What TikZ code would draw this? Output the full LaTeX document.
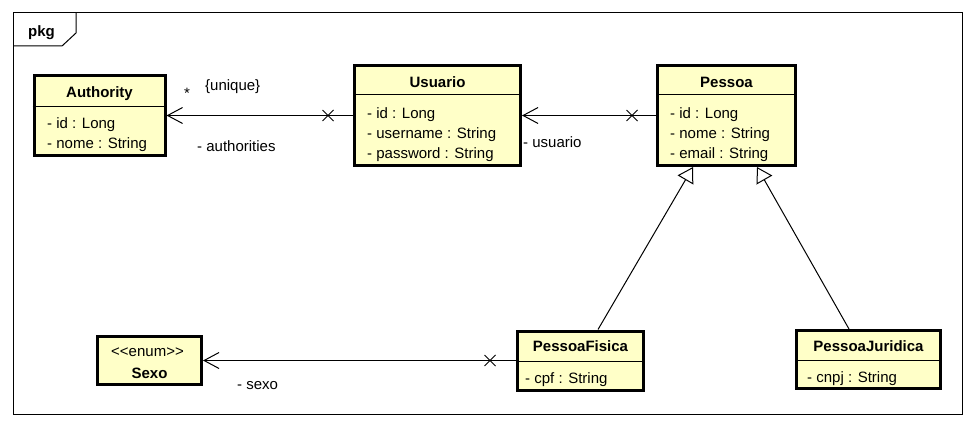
\documentclass[tikz,border=0pt]{standalone}
\usepackage{fontspec}
\setmainfont{Liberation Sans}
\usepackage{xcolor}
\usepackage{tikz}
\usetikzlibrary{arrows.meta,shapes.misc,positioning}
\definecolor{classfill}{HTML}{FFFFC8}

\begin{document}
\begin{tikzpicture}[x=1pt,y=-1pt,%
      font=\fontsize{15pt}{18pt}\selectfont,
      frame/.style={draw,line width=1pt},
      classbox/.style={draw,line width=3pt,fill=classfill,inner sep=0pt},
      sepline/.style={line width=1pt},
      title/.style={anchor=base,inner sep=0pt,font=\fontsize{15pt}{18pt}\selectfont\bfseries},
      attr/.style={anchor=base west,inner sep=0pt},
      rolelabel/.style={anchor=base west,inner sep=0pt},
      xmark/.style={cross out,draw,line width=1pt,minimum size=10pt,inner sep=0pt},
      assoc/.style={line width=1pt,-{Straight Barb[length=15pt,width=16pt]}},
      gen/.style={line width=1pt,-{Triangle[open,length=15pt,width=18pt,fill=white]}}]
      \useasboundingbox (0,0) rectangle (974,428);
      % package frame
      \draw[frame] (13,13) rectangle (962,414);
      \draw[frame] (13,46) -- (62,46) -- (76,33) -- (76,13);
      \node[title] (pkg) at (41.5,37) {pkg};
      % classes
      \node[classbox,minimum width=131pt,minimum height=80pt] (authority) at (99.5,115.5) {};
      \node[classbox,minimum width=166pt,minimum height=100pt] (usuario) at (437.5,115.5) {};
      \node[classbox,minimum width=138pt,minimum height=100pt] (pessoa) at (726.5,115.5) {};
      \node[classbox,minimum width=104pt,minimum height=48pt] (sexo) at (149.5,360.5) {};
      \node[classbox,minimum width=126pt,minimum height=59pt] (pfisica) at (580.5,360.5) {};
      \node[classbox,minimum width=144pt,minimum height=58pt] (pjuridica) at (868.5,359.5) {};
      \draw[sepline] (authority.west |- 0,106) -- (authority.east |- 0,106);
      \draw[sepline] (usuario.west |- 0,94) -- (usuario.east |- 0,94);
      \draw[sepline] (pessoa.west |- 0,94) -- (pessoa.east |- 0,94);
      \draw[sepline] (pfisica.west |- 0,361) -- (pfisica.east |- 0,361);
      \draw[sepline] (pjuridica.west |- 0,360) -- (pjuridica.east |- 0,360);
      % class texts
      \node[title] (authorityname) at (99.5,97) {Authority};
      \node[attr] (authorityid) at (47,128) {- id : Long};
      \node[attr] (authoritynome) at (47,148) {- nome : String};
      \node[title] (usuarioname) at (437.5,87.5) {Usuario};
      \node[attr] (usuarioid) at (367,118) {- id : Long};
      \node[attr] (usuariouser) at (367,138) {- username : String};
      \node[attr] (usuariopass) at (367,158) {- password : String};
      \node[title] (pessoaname) at (726.5,87.5) {Pessoa};
      \node[attr] (pessoaid) at (670,118) {- id : Long};
      \node[attr] (pessoanome) at (670,138) {- nome : String};
      \node[attr] (pessoaemail) at (670,158) {- email : String};
      \node[anchor=base,inner sep=0pt] (sexostereo) at (147.5,356) {<\kern0pt<enum>\kern0pt>};
      \node[title] (sexoname) at (149.5,378) {Sexo};
      \node[title] (pfisicaname) at (580.5,351) {PessoaFisica};
      \node[attr] (pfisicacpf) at (525,383) {- cpf : String};
      \node[title] (pjuridicaname) at (868.5,351.5) {PessoaJuridica};
      \node[attr] (pjuridicacnpj) at (807,382) {- cnpj : String};
      % associations
      \draw[assoc] (usuario.west) -- ++(-25,0) node[xmark] (xauth) {} -- (authority.east);
      \draw[assoc] (pessoa.west) -- ++(-24,0) node[xmark] (xusuario) {} -- (usuario.east);
      \draw[assoc] (pfisica.west) -- ++(-26,0) node[xmark] (xsexo) {} -- (sexo.east);
      \node[anchor=base,inner sep=0pt] (multauth) at (187,99) {*};
      \node[rolelabel] (uniqueauth) at (205,90) {\{unique\}};
      \node[rolelabel] (roleauth) at (197,151) {- authorities};
      \node[rolelabel] (roleusuario) at (523,147) {- usuario};
      \node[rolelabel] (rolesexo) at (237,389) {- sexo};
      % generalizations
      \draw[gen] ([xshift=17.5pt]pfisica.north) -- ([xshift=-33.5pt]pessoa.south);
      \draw[gen] ([xshift=-19.5pt]pjuridica.north) -- ([xshift=30.5pt]pessoa.south);
\end{tikzpicture}
\end{document}
